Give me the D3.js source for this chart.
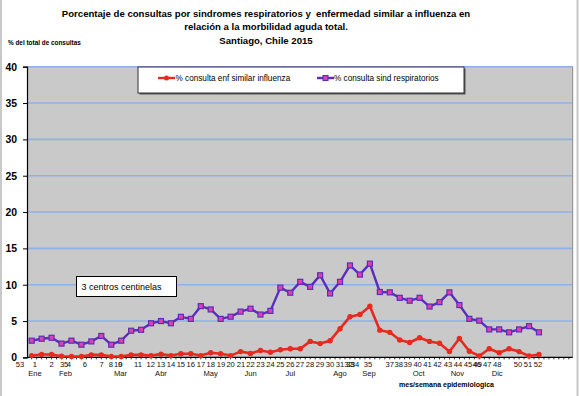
<!DOCTYPE html>
<html><head><meta charset="utf-8">
<script src="https://cdn.jsdelivr.net/npm/d3@7"></script>
<style>body{margin:0;background:#fff}svg{display:block;font-family:"Liberation Sans",Arial,sans-serif}.pre{white-space:pre}</style>
</head><body>
<svg id="c" width="580" height="396"></svg>
<script>
const weeks = d3.range(1, 53);
const ili = [0.25,0.4,0.4,0.15,0.12,0.12,0.35,0.35,0.12,0.12,0.35,0.35,0.25,0.45,0.25,0.5,0.5,0.25,0.65,0.5,0.25,0.8,0.55,0.95,0.7,1.05,1.2,1.2,2.2,1.9,2.3,3.95,5.6,5.9,7.05,3.75,3.45,2.4,2.05,2.7,2.2,1.95,0.8,2.6,0.85,0.2,1.2,0.65,1.2,0.8,0.2,0.4];
const resp = [2.3,2.57,2.7,1.9,2.3,1.75,2.2,2.95,1.75,2.3,3.67,3.8,4.7,5.0,4.7,5.58,5.3,7.05,6.6,5.3,5.6,6.3,6.7,5.9,6.4,9.6,8.9,10.4,9.7,11.3,8.8,10.4,12.65,11.4,12.9,9.0,8.95,8.2,7.8,8.2,7.0,7.6,8.95,7.2,5.3,5.05,3.85,3.85,3.45,3.85,4.3,3.45];
const yTicks = [0,5,10,15,20,25,30,35,40];
// week-number tick labels and their place along the week axis
const weekLabels = ["53","1","2","3","5","4","6","7","8","10","9","11","12","13","14","15","16","17","18","19","20","21","22","23","24","25","26","27","28","29","30","31","32","33","34","35","37","38","39","40","41","42","43","44","45","46","49","47","48","50","51","52"];
const weekLabelAt = [-0.18,1.33,3.01,4.05,4.45,4.75,6.36,8.04,8.97,9.7,9.9,11.69,12.96,14,15,16,17,18.02,19,20.03,21,22.04,23,24,25,26,27,27.97,28.98,29.98,30.99,32,32.85,33.05,33.5,34.81,37,37.9,38.8,39.8,40.8,41.8,42.85,43.85,44.86,45.75,45.85,46.8,47.8,49.9,50.9,51.9];
const months = ["Ene","Feb","Mar","Abr","May","Jun","Jul","Ago","Sep","Oct","Nov","Dic"];
const monthAt = [1.33,4.4,9.93,14,19,23,27,32,34.9,39.9,43.8,47.8];
const seriesNames = ["% consulta enf similar influenza","% consulta sind respiratorios"];
const titleLines = ["Porcentaje de consultas por sindromes respiratorios y  enfermedad similar a influenza en","relación a la morbilidad aguda total.","Santiago, Chile 2015"];

const svg = d3.select("#c");
const L = 27, R = 572.7, T = 66.7, B = 357.4;
const x = d3.scaleLinear().domain([0.53, 55.39]).range([L, R]);
const y = d3.scaleLinear().domain([0, 40]).range([B, T]);
const red = "#e8291f", purple = "#5a2dbd", pink = "#e040a8";

// outer frame
svg.append("line").attr("x1",1).attr("x2",1).attr("y1",0).attr("y2",396).attr("stroke","#c8c8c8").attr("stroke-width",2);
svg.append("line").attr("x1",577.5).attr("x2",577.5).attr("y1",0).attr("y2",396).attr("stroke","#c8c8c8").attr("stroke-width",2);

// title
svg.append("g").selectAll("text").data(titleLines).join("text").attr("class","pre")
  .attr("x",266).attr("y",(d,i)=>17+i*13.3).attr("text-anchor","middle")
  .attr("font-weight","bold").attr("font-size","9.6px").text(d=>d);
svg.append("text").attr("x",8).attr("y",44.5).attr("font-weight","bold").attr("font-size","6.4px").text("% del total de consultas");

// plot bg
svg.append("rect").attr("x",L).attr("y",T).attr("width",R-L).attr("height",B-T).attr("fill","#c9c9c9");
// grid
svg.append("g").selectAll("line").data(yTicks.filter(d=>d>0)).join("line")
  .attr("x1",L).attr("x2",R).attr("y1",d=>y(d)).attr("y2",d=>y(d))
  .attr("stroke","#8fb0ea").attr("stroke-width",1.6);
svg.append("line").attr("x1",R).attr("x2",R).attr("y1",T).attr("y2",B).attr("stroke","#8a8a8a").attr("stroke-width",1);

// y axis
const ya = svg.append("g").attr("transform",`translate(${L},0)`)
  .call(d3.axisLeft(y).tickValues(yTicks).tickSize(4).tickPadding(6));
ya.select(".domain").attr("stroke","#000").attr("stroke-width",1.2);
ya.selectAll("text").attr("font-family","Liberation Sans, Arial").attr("font-weight","bold").attr("font-size","10.4px").attr("fill","#000");

// x axis line + minor ticks
svg.append("line").attr("x1",L).attr("x2",R).attr("y1",B).attr("y2",B).attr("stroke","#000").attr("stroke-width",1.2);
svg.append("g").selectAll("line").data(d3.range(1, 55.5, 0.5)).join("line")
  .attr("x1",d=>x(d)).attr("x2",d=>x(d)).attr("y1",B).attr("y2",B+2).attr("stroke","#000").attr("stroke-width",0.8);

// x labels
svg.append("g").selectAll("text").data(weekLabels).join("text")
  .attr("x",(d,i)=>x(weekLabelAt[i])).attr("y",367.3).attr("text-anchor","middle")
  .attr("font-size","7.6px").attr("fill","#111").text(d=>d);
svg.append("g").selectAll("text").data(months).join("text")
  .attr("x",(d,i)=>x(monthAt[i])).attr("y",375.8).attr("text-anchor","middle")
  .attr("font-size","7.6px").attr("fill","#111").text(d=>d);
svg.append("text").attr("x",446.5).attr("y",387.3).attr("text-anchor","middle")
  .attr("font-weight","bold").attr("font-size","7px").text("mes/semana epidemiologica");

// lines
const line = d3.line().x((d,i)=>x(weeks[i])).y(d=>y(d));
svg.append("path").datum(resp).attr("d",line).attr("fill","none").attr("stroke",purple).attr("stroke-width",2.4).attr("stroke-linejoin","round");
svg.append("g").selectAll("rect").data(resp).join("rect")
  .attr("x",(d,i)=>x(weeks[i])-2.5).attr("y",d=>y(d)-2.5).attr("width",5).attr("height",5)
  .attr("fill",pink).attr("stroke",purple).attr("stroke-width",1.2);
svg.append("path").datum(ili).attr("d",line).attr("fill","none").attr("stroke",red).attr("stroke-width",2.6).attr("stroke-linejoin","round");
svg.append("g").selectAll("circle").data(ili).join("circle")
  .attr("cx",(d,i)=>x(weeks[i])).attr("cy",d=>y(d)).attr("r",2.7).attr("fill",red);

// legend
const lg = svg.append("g");
lg.append("rect").attr("x",139.5).attr("y",68.5).attr("width",326).attr("height",26).attr("fill","#555");
lg.append("rect").attr("x",138).attr("y",67).attr("width",326).attr("height",26).attr("fill","#fff").attr("stroke","#333").attr("stroke-width",1);
const items = [{c:red, x:158, tx:175.5, mk:"c"},{c:purple, x:317, tx:334, mk:"s"}];
items.forEach((it,i)=>{
  lg.append("line").attr("x1",it.x).attr("x2",it.x+17).attr("y1",78).attr("y2",78).attr("stroke",it.c).attr("stroke-width",2.4);
  if(it.mk==="c") lg.append("circle").attr("cx",it.x+8.5).attr("cy",78).attr("r",2.5).attr("fill",it.c);
  else lg.append("rect").attr("x",it.x+6).attr("y",75.5).attr("width",5).attr("height",5).attr("fill",pink).attr("stroke",it.c).attr("stroke-width",1.1);
  lg.append("text").attr("x",it.tx).attr("y",81).attr("font-size","8.2px").text(seriesNames[i]);
});

// annotation box
svg.append("rect").attr("x",76.5).attr("y",276.5).attr("width",100).attr("height",20).attr("fill","#fff").attr("stroke","#000").attr("stroke-width",1);
svg.append("text").attr("x",81.5).attr("y",290).attr("font-size","9px").text("3 centros centinelas");
</script>
</body></html>
